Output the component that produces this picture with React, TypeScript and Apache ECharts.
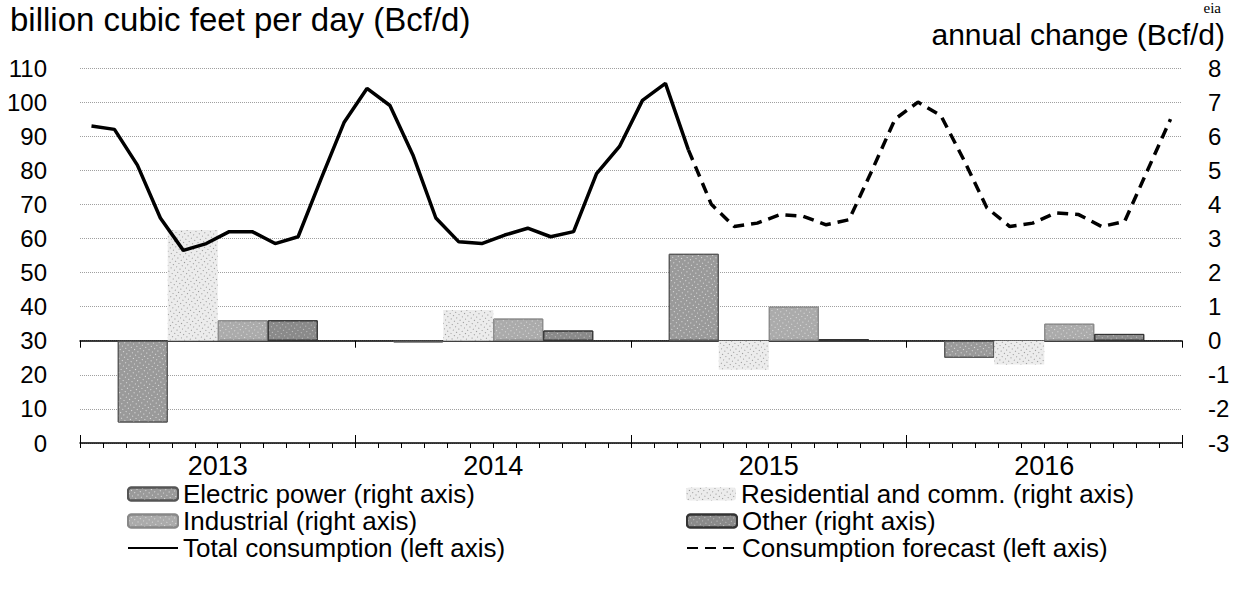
import React, { useEffect, useRef } from "react";
import * as echarts from "echarts";

const months = [
  "Jan 2013", "Feb 2013", "Mar 2013", "Apr 2013", "May 2013", "Jun 2013", "Jul 2013", "Aug 2013", "Sep 2013", "Oct 2013", "Nov 2013", "Dec 2013",
  "Jan 2014", "Feb 2014", "Mar 2014", "Apr 2014", "May 2014", "Jun 2014", "Jul 2014", "Aug 2014", "Sep 2014", "Oct 2014", "Nov 2014", "Dec 2014",
  "Jan 2015", "Feb 2015", "Mar 2015", "Apr 2015", "May 2015", "Jun 2015", "Jul 2015", "Aug 2015", "Sep 2015", "Oct 2015", "Nov 2015", "Dec 2015",
  "Jan 2016", "Feb 2016", "Mar 2016", "Apr 2016", "May 2016", "Jun 2016", "Jul 2016", "Aug 2016", "Sep 2016", "Oct 2016", "Nov 2016", "Dec 2016",
];
const years = ["2013", "2014", "2015", "2016"];

// Bcf/d, Jan 2013 - Mar 2015 (history)
const totalConsumption = [
  93, 92, 81.5, 66, 56.5, 58.5, 62, 62, 58.5, 60.5, 77.5, 94,
  104, 99, 84.5, 66, 59, 58.5, 61, 63, 60.5, 62, 79, 87,
  100.5, 105.5, 86,
];
// Bcf/d, Mar 2015 - Dec 2016 (forecast)
const consumptionForecast = [
  86, 70, 63.5, 64.5, 67, 66.5, 64, 65.5, 80, 95,
  100, 96, 83, 69, 63.5, 64.5, 67.5, 67, 63.5, 65, 80, 95,
];

// annual change, Bcf/d
const electricPower = [-2.4, -0.05, 2.55, -0.5];
const residentialComm = [3.25, 0.9, -0.85, -0.7];
const industrial = [0.6, 0.65, 1.0, 0.5];
const other = [0.6, 0.3, 0.05, 0.2];

const leftTicks = { min: 0, max: 110, interval: 10 };
const rightTicks = { min: -3, max: 8, interval: 1 };

const FONT = "'Liberation Sans', Arial, sans-serif";

export default function App() {
  const ref = useRef<HTMLDivElement>(null);
  useEffect(() => {
    if (!ref.current) return;
    const chart = echarts.init(ref.current, null, { renderer: "svg" });
    const totalData = months.map((_, i) => (i < totalConsumption.length ? totalConsumption[i] : null));
    const fStart = months.length - consumptionForecast.length;
    const forecastData = months.map((_, i) => (i >= fStart ? consumptionForecast[i - fStart] : null));
    const tickFs = 24;
    const legFs = 26;
    const legendBase = {
      itemWidth: 50,
      itemHeight: 13,
      itemGap: 0,
      padding: 0,
      textStyle: { fontSize: legFs, lineHeight: 24, color: "#000", fontFamily: FONT },
      selectedMode: false,
    };
    const dots = (c: string, gap: number) => ({
      symbol: "rect",
      symbolSize: 1,
      color: c,
      dashArrayX: [1, gap],
      dashArrayY: [1, gap],
      rotation: 0.6,
    });
    chart.setOption({
      animation: false,
      backgroundColor: "#fff",
      textStyle: { fontFamily: FONT },
      grid: { left: 80, right: 57, top: 68, bottom: 154 },
      graphic: [
        { type: "text", left: 10, top: 3, style: { text: "billion cubic feet per day (Bcf/d)", fontSize: 33, lineHeight: 32, fill: "#000", fontFamily: FONT } },
        { type: "text", right: 14, top: 19, style: { text: "annual change (Bcf/d)", fontSize: 30, lineHeight: 30, fill: "#000", fontFamily: FONT } },
        { type: "text", right: 18, top: 0, style: { text: "eia", fontSize: 15, lineHeight: 15, fill: "#000", fontFamily: "'Liberation Serif', serif" } },
      ],
      legend: [
        { ...legendBase, data: [{ name: "Electric power (right axis)" }], left: 127, top: 481 },
        { ...legendBase, data: [{ name: "Industrial (right axis)" }], left: 127, top: 508 },
        { ...legendBase, data: [{ name: "Total consumption (left axis)", itemStyle: { opacity: 0 } }], left: 127, top: 535 },
        { ...legendBase, data: [{ name: "Residential and comm. (right axis)" }], left: 686, top: 481 },
        { ...legendBase, data: [{ name: "Other (right axis)" }], left: 686, top: 508 },
        { ...legendBase, data: [{ name: "Consumption forecast (left axis)", itemStyle: { opacity: 0 } }], left: 686, top: 535 },
      ],
      xAxis: [
        {
          type: "category",
          data: months,
          boundaryGap: true,
          position: "bottom",
          axisLine: { onZero: false, lineStyle: { color: "#000", width: 1.5 } },
          axisTick: { show: true, interval: 0, length: 5, lineStyle: { color: "#000" } },
          axisLabel: { show: false },
          splitLine: { show: false },
        },
        {
          type: "category",
          data: years,
          position: "bottom",
          axisLine: { show: false, onZero: false },
          axisTick: { show: true, inside: true, length: 8, interval: 0, lineStyle: { color: "#000" } },
          axisLabel: { show: true, fontSize: 27, lineHeight: 26, color: "#000", margin: 10, fontFamily: FONT },
          splitLine: { show: false },
        },
        {
          type: "category",
          data: years,
          position: "bottom",
          axisLine: { show: true, onZero: true, onZeroAxisIndex: 1, lineStyle: { color: "#000", width: 1.5 } },
          axisTick: { show: true, length: 7, interval: 0, lineStyle: { color: "#000" } },
          axisLabel: { show: false },
          splitLine: { show: false },
        },
      ],
      yAxis: [
        {
          type: "value",
          position: "left",
          ...leftTicks,
          axisLine: { show: false },
          axisTick: { show: false },
          axisLabel: { fontSize: tickFs, color: "#000", margin: 33, fontFamily: FONT },
          splitLine: { show: true, lineStyle: { type: "dotted", color: "#a0a0a0", width: 1 } },
        },
        {
          type: "value",
          position: "right",
          ...rightTicks,
          axisLine: { show: false },
          axisTick: { show: false },
          axisLabel: { fontSize: tickFs, color: "#000", margin: 26, fontFamily: FONT },
          splitLine: { show: false },
        },
      ],
      series: [
        {
          name: "Electric power (right axis)", type: "bar", xAxisIndex: 1, yAxisIndex: 1,
          barWidth: 50, barGap: "0%", data: electricPower,
          itemStyle: { color: "#9a9a9a", borderColor: "#555", borderWidth: 1, decal: dots("rgba(255,255,255,0.7)", 3) },
        },
        {
          name: "Residential and comm. (right axis)", type: "bar", xAxisIndex: 1, yAxisIndex: 1,
          barWidth: 50, barGap: "0%", data: residentialComm,
          itemStyle: { color: "#ececec", decal: dots("rgba(90,90,90,0.6)", 3) },
        },
        {
          name: "Industrial (right axis)", type: "bar", xAxisIndex: 1, yAxisIndex: 1,
          barWidth: 50, barGap: "0%", data: industrial,
          itemStyle: { color: "#ababab", borderColor: "#888", borderWidth: 1, decal: dots("rgba(255,255,255,0.6)", 3) },
        },
        {
          name: "Other (right axis)", type: "bar", xAxisIndex: 1, yAxisIndex: 1,
          barWidth: 50, barGap: "0%", data: other,
          itemStyle: { color: "#8a8a8a", borderColor: "#333", borderWidth: 1, decal: dots("rgba(255,255,255,0.5)", 3) },
        },
        {
          name: "Total consumption (left axis)", type: "line", xAxisIndex: 0, yAxisIndex: 0,
          data: totalData, symbol: "none", z: 10,
          lineStyle: { color: "#000", width: 3.5 }, itemStyle: { color: "#000" },
        },
        {
          name: "Consumption forecast (left axis)", type: "line", xAxisIndex: 0, yAxisIndex: 0,
          data: forecastData, symbol: "none", z: 10,
          lineStyle: { color: "#000", width: 3.5, type: [11, 7] }, itemStyle: { color: "#000" },
        },
      ],
    });
    return () => chart.dispose();
  }, []);
  return (
    <div
      ref={ref}
      style={{ position: "fixed", left: 0, top: 0, width: 1239, height: 597, background: "#fff" }}
    />
  );
}
